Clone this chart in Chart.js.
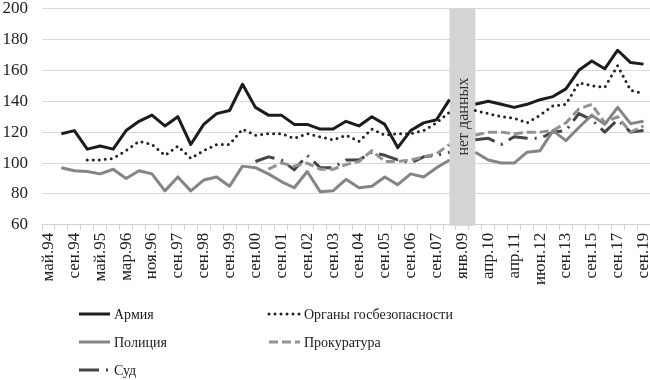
<!DOCTYPE html>
<html lang="ru">
<head>
<meta charset="utf-8">
<script src="https://cdn.jsdelivr.net/npm/chart.js@4/dist/chart.umd.min.js"></script>
<style>
    html, body { margin: 0; padding: 0; background: #fff; }
    #wrap { width: 650px; height: 380px; position: relative; }
</style>
</head>
<body>
<div id="wrap"><canvas id="chart"></canvas></div>
<script>
(function () {
    'use strict';

    // Visible axis labels (every second survey wave is unlabeled)
    var TICK_LABELS = [
        'май.94', 'сен.94', 'май.95', 'мар.96', 'ноя.96', 'сен.97', 'сен.98', 'сен.99',
        'сен.00', 'сен.01', 'сен.02', 'сен.03', 'сен.04', 'сен.05', 'сен.06', 'сен.07',
        'янв.09', 'апр.10', 'апр.11', 'июн.12', 'сен.13', 'сен.15', 'сен.17', 'сен.19'
    ];

    // Gap with no survey data
    var NO_DATA_LABEL = 'янв.09';
    var NO_DATA_TEXT = 'нет данных';

    var ARMY = [
        null, 119, 121, 109, 111, 109, 121, 127, 131, 124, 130, 112, 125, 132, 134, 151,
        136, 131, 131, 125, 125, 122, 122, 127, 124, 130, 125, 110, 121, 126, 128, 141,
        null, 138, 140, 138, 136, 138, 141, 143, 148, 160, 166, 161, 173, 165, 164
    ];
    var SECURITY = [
        null, null, null, 102, 102, 103, 108, 114, 112, 105, 111, 103, 108, 112, 112, 122,
        118, 119, 119, 116, 119, 117, 115, 118, 114, 122, 118, 119, 119, 121, 126, 133,
        null, 134, 132, 130, 129, 126, 131, 137, 138, 152, 150, 149, 163, 147, 145
    ];
    var POLICE = [
        null, 97, 95, 94.5, 93, 96, 90, 95, 93, 82, 91, 82, 89, 91, 85, 98,
        97, 93, 88, 84, 94.5, 81.5, 82, 89.5, 84, 85, 91, 86, 93, 91, 97, 102,
        null, 107, 102, 100, 100, 107, 108, 121, 114.5, 123, 131, 125, 136, 125.5, 127
    ];
    var PROSECUTOR = [
        null, null, null, null, null, null, null, null, null, null, null, null, null, null, null, null,
        null, 96, 100, 98, 100, 96, 96, 99, 101, 108, 101, 101, 102, 104, 106, 112,
        null, 118, 120, 120, 119, 120, 120, 121, 126, 135, 138, 126, 130, 120, 124
    ];
    var COURT = [
        null, null, null, null, null, null, null, null, null, null, null, null, null, null, null, null,
        101, 104, 102, 95.6, 105, 97, 97, 102, 102, 107, 105, 102, 100, 104, 105, 107,
        null, 115, 116, 112, 117, 116, 116, 120, 121, 132, 128, 120, 128, 120, 121
    ];

    // Each labeled wave is followed by an unlabeled one
    var labels = [];
    TICK_LABELS.forEach(function (l, i) {
        labels.push(l);
        if (i < TICK_LABELS.length - 1) labels.push('');
    });

    var FONT = 'Liberation Serif, Times New Roman, serif';

    function line(label, data, color, dash, cap) {
        return {
            label: label,
            data: data,
            borderColor: color,
            backgroundColor: color,
            borderWidth: 3,
            borderDash: dash,
            borderCapStyle: cap || 'butt',
            borderJoinStyle: 'round',
            pointRadius: 0,
            tension: 0,
            spanGaps: false,
            fill: false,
        };
    }

    // Gray band over the missing survey period
    var noDataBand = {
        id: 'noDataBand',
        beforeDatasetsDraw: function (chart) {
            var x = chart.scales.x;
            var area = chart.chartArea;
            var idx = labels.indexOf(NO_DATA_LABEL);
            var x1 = x.getPixelForValue(idx - 1);
            var x2 = x.getPixelForValue(idx + 1);
            var ctx = chart.ctx;
            ctx.save();
            ctx.fillStyle = '#d4d4d4';
            ctx.fillRect(x1, area.top, x2 - x1, area.bottom - area.top + 1);
            ctx.translate((x1 + x2) / 2, (area.top + area.bottom) / 2);
            ctx.rotate(-Math.PI / 2);
            ctx.fillStyle = '#333';
            ctx.font = '16px ' + FONT;
            ctx.textAlign = 'center';
            ctx.textBaseline = 'middle';
            ctx.fillText(NO_DATA_TEXT, 0, 1);
            ctx.restore();
        }
    };

    // Two-column legend under the axis
    var legendLayout = [
        { col: 78, row: 314 }, { col: 268, row: 314 },
        { col: 78, row: 342 }, { col: 268, row: 342 },
        { col: 78, row: 370 }
    ];
    var bottomLegend = {
        id: 'bottomLegend',
        afterDraw: function (chart) {
            var ctx = chart.ctx;
            ctx.save();
            chart.data.datasets.forEach(function (ds, i) {
                var pos = legendLayout[i];
                ctx.beginPath();
                ctx.strokeStyle = ds.borderColor;
                ctx.lineWidth = ds.borderWidth;
                ctx.lineCap = ds.borderCapStyle;
                ctx.setLineDash(ds.borderDash || []);
                ctx.moveTo(pos.col + 1, pos.row);
                ctx.lineTo(pos.col + 32, pos.row);
                ctx.stroke();
                ctx.setLineDash([]);
                ctx.fillStyle = '#1a1a1a';
                ctx.font = '14px ' + FONT;
                ctx.textAlign = 'left';
                ctx.textBaseline = 'middle';
                ctx.fillText(ds.label, pos.col + 36, pos.row + 1);
            });
            ctx.restore();
        }
    };

    new Chart(document.getElementById('chart'), {
        type: 'line',
        data: {
            labels: labels,
            datasets: [
                line('Армия', ARMY, '#1c1c1c', []),
                line('Органы госбезопасности', SECURITY, '#222222', [0, 6], 'round'),
                line('Полиция', POLICE, '#858585', []),
                line('Прокуратура', PROSECUTOR, '#929292', [9, 4]),
                line('Суд', COURT, '#454545', [20, 7, 2, 7]),
            ],
        },
        options: {
            responsive: true,
            maintainAspectRatio: false,
            animation: false,
            layout: { padding: { top: 0, left: 0, right: 0, bottom: 92 } },
            plugins: {
                legend: { display: false },
                tooltip: { enabled: false },
            },
            scales: {
                x: {
                    offset: true,
                    afterFit: function (scale) {
                        scale.paddingLeft = 0;
                        scale.paddingRight = 0;
                    },
                    grid: {
                        offset: true,
                        drawOnChartArea: false,
                        drawTicks: true,
                        tickLength: 5,
                        color: '#d0d0d0',
                    },
                    border: { display: true, color: '#d0d0d0' },
                    ticks: {
                        autoSkip: false,
                        minRotation: 90,
                        maxRotation: 90,
                        padding: 3,
                        color: '#222',
                        font: { family: FONT, size: 17 },
                    },
                },
                y: {
                    min: 60,
                    max: 200,
                    afterFit: function (scale) {
                        scale.width = 42;
                        scale.paddingTop = 8.5;
                        scale.paddingBottom = 0;
                    },
                    ticks: {
                        stepSize: 20,
                        padding: 14,
                        color: '#222',
                        font: { family: FONT, size: 17 },
                    },
                    grid: { color: '#d9d9d9', drawTicks: false },
                    border: { display: false },
                },
            },
        },
        plugins: [noDataBand, bottomLegend],
    });
})();
</script>
</body>
</html>
